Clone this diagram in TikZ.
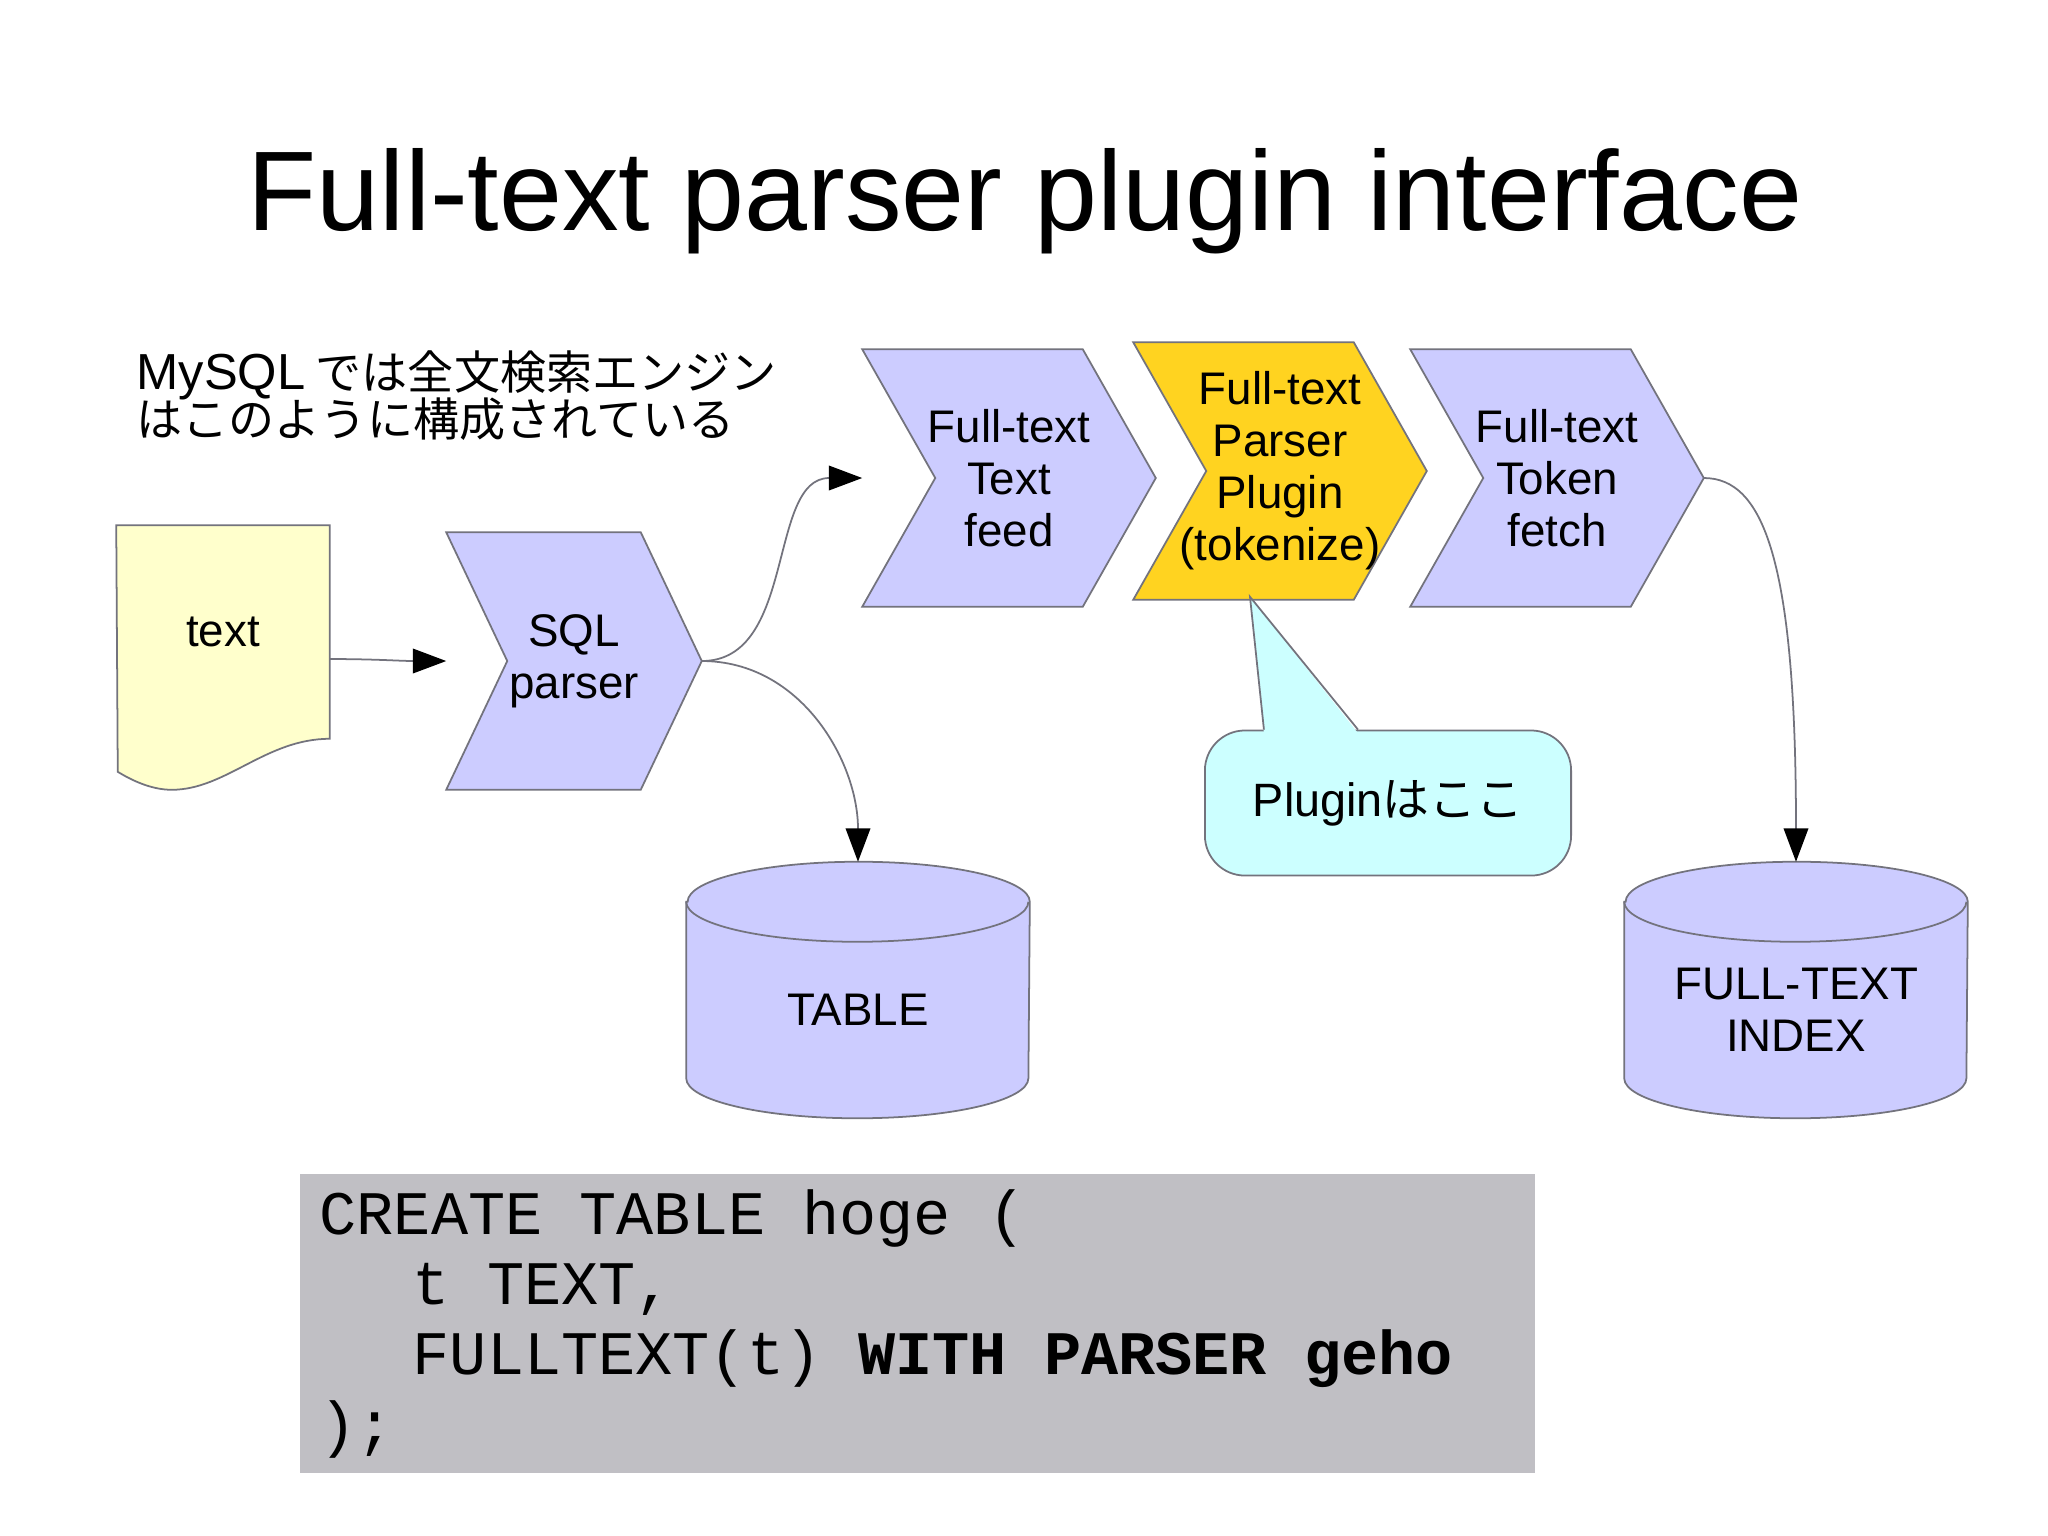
\documentclass[tikz,border=0pt]{standalone}
\usepackage{fontspec}
\setmainfont{Liberation Sans}
\setmonofont{Liberation Mono}
\newfontfamily\cjk{Noto Sans CJK JP}
\usetikzlibrary{arrows.meta,positioning,backgrounds}

\definecolor{stageblue}{RGB}{204,204,255}
\definecolor{stageyellow}{RGB}{255,211,32}
\definecolor{docyellow}{RGB}{255,255,204}
\definecolor{hintcyan}{RGB}{204,255,255}
\definecolor{codegray}{RGB}{192,191,196}
\definecolor{linegray}{RGB}{115,115,125}

\tikzset{
  stage/.style={
    rectangle,
    inner sep=0pt,
    minimum width=2.92cm,
    minimum height=2.56cm,
    align=center,
    font=\fontsize{13}{14.8}\selectfont
  },
  small stage/.style={
    stage,
    minimum width=2.54cm
  },
  store/.style={
    rectangle,
    inner sep=0pt,
    minimum width=3.42cm,
    minimum height=2.15cm,
    align=center,
    font=\fontsize{13}{14.8}\selectfont
  },
  intro line/.style={
    anchor=base west,
    inner sep=0pt,
    font=\cjk\fontsize{13.1}{13.4}\selectfont
  },
  flow/.style={
    draw=linegray,
    line width=0.5pt,
    -{Triangle[length=9.5pt,width=7pt,color=black]}
  },
  outline/.style={
    draw=linegray,
    line width=0.5pt
  }
}

\begin{document}
\begin{tikzpicture}[x=0.01cm, y=-0.01cm]
  \useasboundingbox (0,0) rectangle (2048,1535);

  \node[font=\fontsize{32.2}{38}\selectfont, anchor=base] (title) at (1025,230)
    {Full-text parser plugin interface};
  \node[intro line] (intro) at (136,389)
    {{\rmfamily\fontsize{14.4}{13.4}\selectfont MySQL} では全文検索エンジン};
  \node[intro line] (intro2) at (136,436) {はこのように構成されている};

  \node[rectangle, inner sep=0pt, minimum width=2.12cm, minimum height=2.12cm,
        font=\fontsize{13}{14.8}\selectfont] (src) at (223,632) {text};
  \node[small stage] (sql) at (574,661) {SQL\\parser};
  \node[stage] (feed) at (1009,478) {Full-text\\Text\\feed};
  \node[stage] (plugin) at (1280,471) {Full-text\\Parser\\Plugin\\(tokenize)};
  \node[stage] (fetch) at (1557,478) {Full-text\\Token\\fetch};
  \node[store] (table) at (858,1010) {TABLE};
  \node[store] (index) at (1796,1010) {FULL-TEXT\\INDEX};

  % shapes behind the labels
  \begin{scope}[on background layer]
    \fill[white] (0,0) rectangle (2048,1535);
    \filldraw[outline, fill=docyellow] (src.north west) -- (src.north east) -- (src.south east)
      .. controls +(-64,0) and +(54,0) .. ++(-158,51)
      .. controls +(-21,0) and +(13,8) .. ++(-54,-18) -- cycle;
    \foreach \n/\d/\c in {sql/0.61cm/stageblue, feed/0.73cm/stageblue,
                          plugin/0.73cm/stageyellow, fetch/0.73cm/stageblue}
      \filldraw[outline, fill=\c] (\n.north west) -- ([xshift=-\d]\n.north east)
        -- (\n.east) -- ([xshift=-\d]\n.south east) -- (\n.south west)
        -- ([xshift=\d]\n.west) -- cycle;
    \foreach \n in {table,index} {
      \filldraw[outline, fill=stageblue] (\n.north west) -- ([yshift=0.4cm]\n.south west)
        arc[start angle=180, end angle=360, x radius=1.71cm, y radius=0.4cm]
        -- (\n.north east)
        arc[start angle=0, end angle=180, x radius=1.71cm, y radius=0.4cm] -- cycle;
      \draw[outline] (\n.north west)
        arc[start angle=180, end angle=360, x radius=1.71cm, y radius=0.4cm];
    }
  \end{scope}

  \draw[flow] ([yshift=-0.27cm]src.east) to[out=0, in=180] (sql.west);
  \draw[flow] (sql.east) to[out=0, in=180] (feed.west);
  \draw[flow] (sql.east) to[out=0, in=90] ([yshift=0.4cm]table.north);
  \draw[flow] (fetch.east) .. controls +(60,0) and +(0,-300) .. ([yshift=0.4cm]index.north);

  % callout
  \node[outline, fill=hintcyan, rounded corners=0.4cm, minimum width=3.66cm,
        minimum height=1.45cm, font=\fontsize{13.3}{15}\selectfont] (hint) at (1388,803)
    {Plugin{\cjk はここ}};
  \fill[hintcyan] ([xshift=-1.24cm, yshift=-1pt]hint.north)
    -- ([xshift=-0.3cm, yshift=0.03cm]plugin.south)
    -- ([xshift=-0.3cm, yshift=-1pt]hint.north) -- cycle;
  \draw[outline] ([xshift=-1.24cm]hint.north)
    -- ([xshift=-0.3cm, yshift=0.03cm]plugin.south) -- ([xshift=-0.3cm]hint.north);

  \node[fill=codegray, minimum width=12.35cm, minimum height=2.99cm, inner xsep=0.2cm,
        text width=11.95cm, align=left, font=\ttfamily\fontsize{17.6}{20}\selectfont]
        (ddl) at (917.5,1323.5)
    {\spaceskip=0.6em\relax
     CREATE TABLE hoge (\\
     \hspace*{26.5pt}t TEXT,\\
     \hspace*{26.5pt}FULLTEXT(t) \textbf{WITH PARSER geho}\\
     );};
\end{tikzpicture}
\end{document}
